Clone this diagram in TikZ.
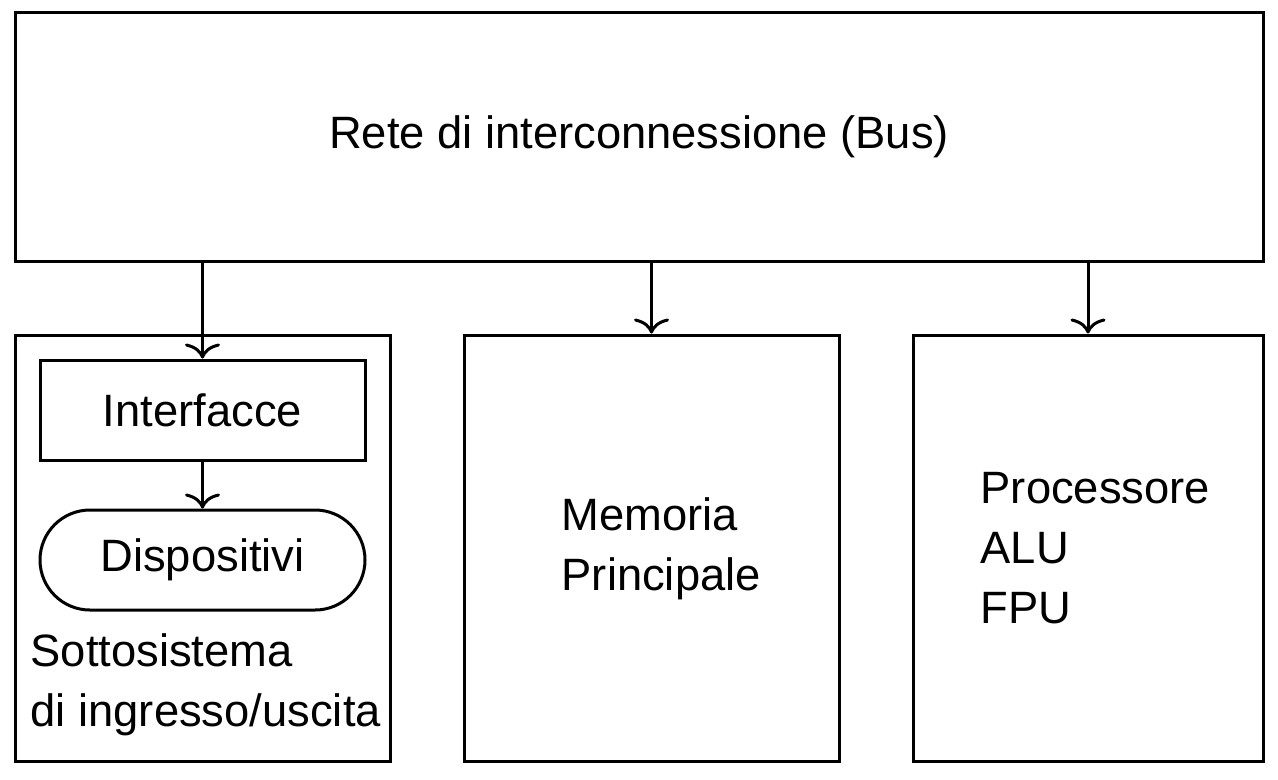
\documentclass[tikz,border=0pt]{standalone}
\usepackage{fontspec}
\setmainfont{Liberation Sans}
\usetikzlibrary{arrows.meta,positioning}

\tikzset{
  blk/.style={draw,line width=0.9pt,inner sep=0pt},
  lbl/.style={inner sep=0pt,anchor=north west,align=left},
  conn/.style={line width=0.9pt,-{Computer Modern Rightarrow[length=4.5pt,width=10.5pt,line width=0.9pt]}}
}

\begin{document}
\begin{tikzpicture}[x=0.3pt,y=-0.3pt,font=\fontsize{13.6pt}{18pt}\selectfont]
\useasboundingbox (0,0) rectangle (1278,779);
% ---------- the bus ----------
\node[blk,minimum width=374.4pt,minimum height=74.7pt] (bus) at (639,136.5) {Rete di interconnessione (Bus)};
% ---------- the three subsystems ----------
\node[blk,minimum width=112.5pt,minimum height=127.8pt] (io) at (202.5,548) {};
\node[blk,minimum width=112.5pt,minimum height=127.8pt] (mem) at (651.5,548) {};
\node[blk,minimum width=105pt,minimum height=127.8pt] (cpu) at (1088,548) {};
% inside the I/O block
\node[blk,minimum width=97.5pt,minimum height=30pt] (ifc) at (202.5,410) {Interfacce};
\node[blk,rounded corners=15pt,minimum width=97.5pt,minimum height=30pt] (dev) at (202.5,560) {Dispositivi};
\node[lbl] (iolbl) at (30,633) {Sottosistema\\di ingresso/uscita};
\node[lbl] (memlbl) at (561,497) {Memoria\\Principale};
\node[lbl] (cpulbl) at (980,472) {Processore\\ALU\\FPU};
% connections
\draw[conn] (bus.south -| ifc.north) -- (ifc.north);
\draw[conn] (bus.south -| mem.north) -- (mem.north);
\draw[conn] (bus.south -| cpu.north) -- (cpu.north);
\draw[conn] (ifc.south) -- (dev.north);
\end{tikzpicture}
\end{document}
